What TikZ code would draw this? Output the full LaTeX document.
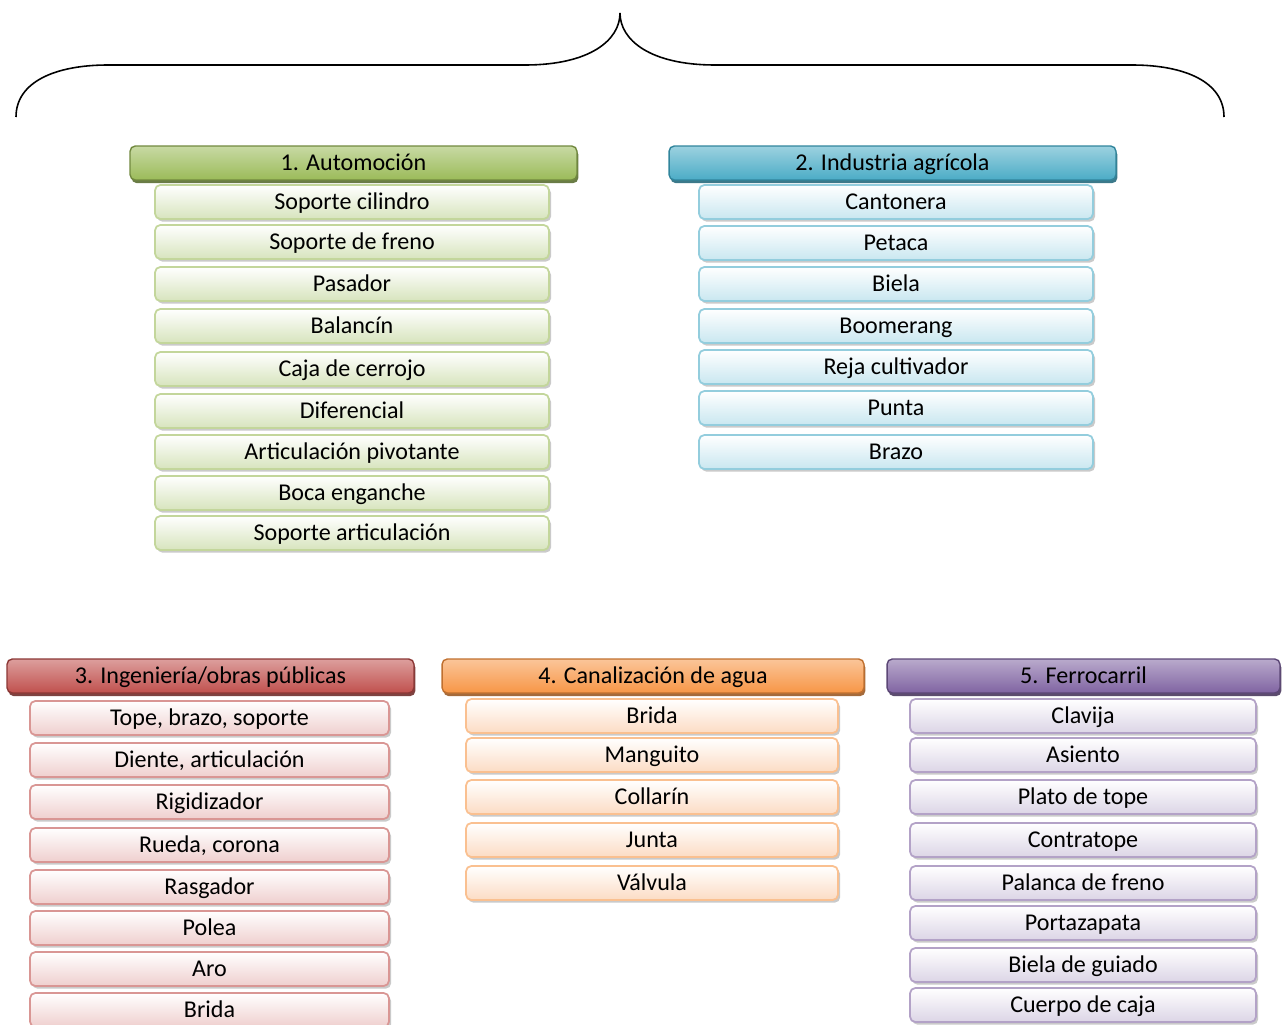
\documentclass[tikz,border=0pt]{standalone}
\usepackage{fontspec}
\setmainfont{Carlito}
\usetikzlibrary{shadows}
\definecolor{gM}{HTML}{9BBB59}\definecolor{gD}{HTML}{71893F}\definecolor{gL}{HTML}{D7E4BD}\definecolor{gB}{HTML}{C3D69B}
\definecolor{bM}{HTML}{4BACC6}\definecolor{bD}{HTML}{31859C}\definecolor{bL}{HTML}{C9E7F0}\definecolor{bB}{HTML}{93CDDD}
\definecolor{rM}{HTML}{C0504D}\definecolor{rD}{HTML}{8C3836}\definecolor{rL}{HTML}{EFCFCE}\definecolor{rB}{HTML}{D99694}
\definecolor{oM}{HTML}{F79646}\definecolor{oD}{HTML}{C0702F}\definecolor{oL}{HTML}{FCDCC4}\definecolor{oB}{HTML}{FAC090}
\definecolor{pM}{HTML}{8064A2}\definecolor{pD}{HTML}{5C4776}\definecolor{pL}{HTML}{DCD5E6}\definecolor{pB}{HTML}{B3A2C7}
\tikzset{
  txt/.style={font=\fontsize{13.7}{15}\selectfont, text height=0.95em, text depth=0.1em, inner sep=0pt},
  hdr/.style 2 args={txt, rounded corners=3pt, draw=#2, line width=0.8pt,
    top color=#1!55, bottom color=#1, minimum height=0.68cm,
    drop shadow={shadow xshift=0.8pt, shadow yshift=-1.8pt, fill=#2!80!black, opacity=0.9}},
  itm/.style 2 args={txt, rounded corners=3pt, draw=#2, line width=1pt,
    top color=white, bottom color=#1, minimum height=0.68cm,
    drop shadow={shadow xshift=1.2pt, shadow yshift=-1.5pt, fill=gray!70, opacity=0.6}},
  brace/.style={line width=0.9pt, black}
}
\begin{document}
\begin{tikzpicture}[x=0.02cm,y=-0.02cm]
\useasboundingbox (0,0) rectangle (1284,1024);
% brace
\coordinate (bl) at (16,117);
\coordinate (bt) at (620,13);
\coordinate (br) at (1224,117);
\draw[brace] (bl) .. controls (16,82) and (55,65) .. (108,65) -- (525,65)
  .. controls (590,65) and (620,40) .. (bt)
  .. controls (620,40) and (650,65) .. (715,65) -- (1132,65)
  .. controls (1185,65) and (1224,82) .. (br);
% group 1
\node[hdr={gM}{gD}, minimum width=8.94cm] (h1) at (353.5,163) {1. Automoción};
\foreach \t [count=\i] / \y in {Soporte cilindro/202, Soporte de freno/242, Pasador/284, Balancín/326, Caja de cerrojo/369, Diferencial/411, Articulación pivotante/452, Boca enganche/493, Soporte articulación/533}
  \node[itm={gL}{gB}, minimum width=7.88cm] (a\i) at (352,\y) {\t};
% group 2
\node[hdr={bM}{bD}, minimum width=8.94cm] (h2) at (892.5,163) {2. Industria agrícola};
\foreach \t [count=\i] / \y in {Cantonera/202, Petaca/243, Biela/284, Boomerang/326, Reja cultivador/367, Punta/408, Brazo/452}
  \node[itm={bL}{bB}, minimum width=7.88cm] (b\i) at (896,\y) {\t};
% group 3
\node[hdr={rM}{rD}, minimum width=8.14cm] (h3) at (210.5,676) {3. Ingeniería/obras públicas};
\foreach \t [count=\i] / \y in {{Tope, brazo, soporte}/718, {Diente, articulación}/760, Rigidizador/802, {Rueda, corona}/845, Rasgador/887, Polea/928, Aro/969, Brida/1010}
  \node[itm={rL}{rB}, minimum width=7.18cm] (c\i) at (209.5,\y) {\t};
% group 4
\node[hdr={oM}{oD}, minimum width=8.44cm] (h4) at (653,676) {4. Canalización de agua};
\foreach \t [count=\i] / \y in {Brida/716, Manguito/755, Collarín/797, Junta/840, Válvula/883}
  \node[itm={oL}{oB}, minimum width=7.44cm] (d\i) at (652,\y) {\t};
% group 5
\node[hdr={pM}{pD}, minimum width=7.86cm] (h5) at (1083.5,676) {5. Ferrocarril};
\foreach \t [count=\i] / \y in {Clavija/716, Asiento/755, Plato de tope/797, Contratope/840, Palanca de freno/883, Portazapata/923, Biela de guiado/965, Cuerpo de caja/1005}
  \node[itm={pL}{pB}, minimum width=6.92cm] (e\i) at (1083,\y) {\t};
\end{tikzpicture}
\end{document}
